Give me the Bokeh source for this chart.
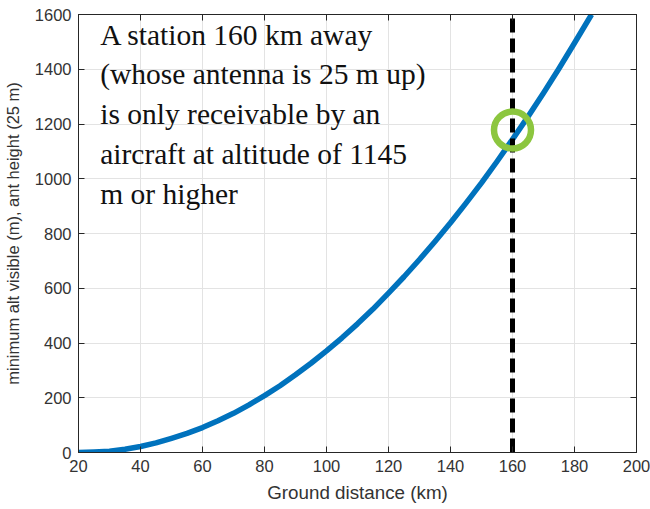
from bokeh.plotting import figure
from bokeh.models import Range1d, LinearAxis, Label, FixedTicker
from bokeh.embed import file_html
from bokeh.resources import INLINE

# Ground distance (km) and minimum visible altitude (m)
distance_km = [20, 25, 30, 35, 40, 45, 50, 55, 60, 65, 70, 75, 80, 85, 90, 95, 100, 105, 110, 115,
               120, 125, 130, 135, 140, 145, 150, 155, 160, 165, 170, 175, 180, 185.5]
min_alt_m = [0, 2, 5, 12, 22, 35, 52, 70, 91, 116, 143, 174, 208, 244, 284, 326, 371, 419, 470, 524,
             582, 642, 705, 771, 839, 911, 985, 1063, 1144, 1227, 1313, 1403, 1496, 1600]

station_km = 160
highlight_alt = 1178
x_ticks = [20, 40, 60, 80, 100, 120, 140, 160, 180, 200]
y_ticks = [0, 200, 400, 600, 800, 1000, 1200, 1400, 1600]

x_title = "Ground distance (km)"
y_title = "minimum alt visible (m), ant height (25 m)"
note = ("A station 160 km away\n(whose antenna is 25 m up)\nis only receivable by an\n"
        "aircraft at altitude of 1145\nm or higher")

p = figure(width=650, height=509, output_backend="svg", toolbar_location=None,
           x_range=Range1d(20, 200), y_range=Range1d(0, 1600),
           min_border_left=78, min_border_right=14, min_border_top=14, min_border_bottom=57)

p.background_fill_color = "white"
p.border_fill_color = "white"
p.outline_line_color = "#262626"
p.outline_line_width = 1

for ax in (p.xaxis[0], p.yaxis[0]):
    ax.major_label_text_font = "Liberation Sans"
    ax.major_label_text_font_size = "16.5px"
    ax.major_label_text_color = "#333333"
    ax.axis_label_text_font = "Liberation Sans"
    ax.axis_label_text_font_style = "normal"
    ax.axis_label_text_color = "#333333"
    ax.axis_line_color = "#262626"
    ax.major_tick_line_color = "#262626"
    ax.major_tick_in = 6
    ax.major_tick_out = 0
    ax.minor_tick_line_color = None

p.xaxis[0].ticker = FixedTicker(ticks=x_ticks)
p.yaxis[0].ticker = FixedTicker(ticks=y_ticks)
p.xaxis[0].axis_label = x_title
p.yaxis[0].axis_label = y_title
p.xaxis[0].axis_label_text_font_size = "18.8px"
p.yaxis[0].axis_label_text_font_size = "16.5px"
p.xaxis[0].major_label_standoff = 7
p.yaxis[0].major_label_standoff = 7
p.xaxis[0].axis_label_standoff = 7
p.yaxis[0].axis_label_standoff = 10

for loc, tk in (("above", x_ticks), ("right", y_ticks)):
    ax = LinearAxis(ticker=FixedTicker(ticks=tk))
    ax.major_label_text_font_size = "1px"
    ax.major_label_text_color = None
    ax.major_label_standoff = 0
    ax.axis_line_color = "#262626"
    ax.major_tick_line_color = "#262626"
    ax.major_tick_in = 6
    ax.major_tick_out = 0
    ax.minor_tick_line_color = None
    p.add_layout(ax, loc)

p.xgrid.ticker = FixedTicker(ticks=x_ticks)
p.ygrid.ticker = FixedTicker(ticks=y_ticks)
p.grid.grid_line_color = "#e3e3e3"
p.grid.grid_line_width = 1

p.line(distance_km, min_alt_m, line_color="#0072BD", line_width=5.5, line_join="round")

p.line([station_km, station_km], [0, 1600], line_color="black", line_width=5, line_dash="14 6")

p.scatter([station_km], [highlight_alt], size=37, marker="circle", fill_color=None,
          line_color="#8CC63F", line_width=6.5)

lbl = Label(x=27, y=1585, text=note, text_font="Liberation Serif", text_font_size="29.5px",
            text_color="#111111", text_baseline="top", text_align="left", text_line_height=1.245)
p.add_layout(lbl)

open("out.html", "w").write(file_html(p, INLINE))
